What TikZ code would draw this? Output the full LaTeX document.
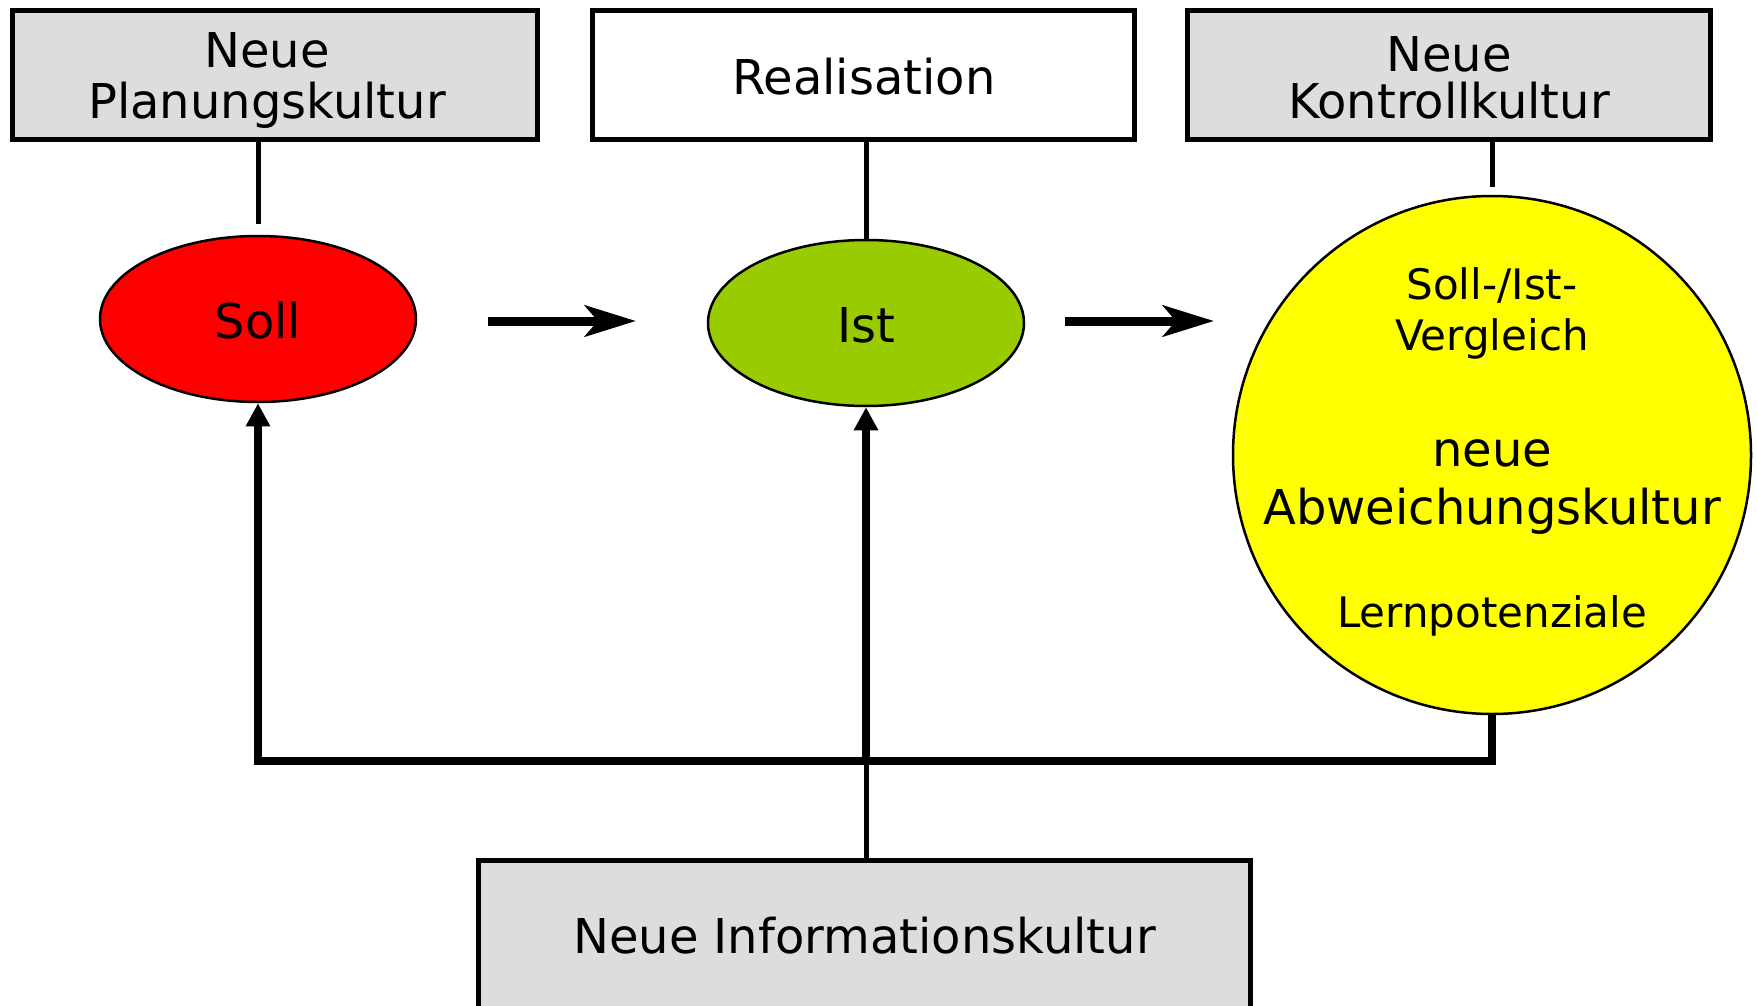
\documentclass[tikz,border=0pt]{standalone}
\usepackage{fontspec}
\setmainfont{DejaVu Sans}
\usetikzlibrary{arrows.meta,shapes.geometric}

\definecolor{boxgrey}{HTML}{DDDDDD}
\definecolor{sollred}{HTML}{FF0000}
\definecolor{istgreen}{HTML}{99CC00}
\definecolor{cmpyellow}{HTML}{FFFF00}

\tikzset{
  frame/.style={draw=black, line width=5pt, rectangle, inner sep=0pt},
  greyframe/.style={frame, fill=boxgrey},
  whiteframe/.style={frame, fill=white},
  oval/.style={draw=black, line width=2.5pt, ellipse, inner sep=0pt,
    minimum width=316pt, minimum height=166pt},
  txt/.style={anchor=base, inner sep=0pt, font=\fontsize{48}{51}\selectfont},
  smalltxt/.style={anchor=base, inner sep=0pt, font=\fontsize{42}{45}\selectfont},
  link/.style={draw=black, line width=5pt},
  flow/.style={draw=black, line width=9pt,
    -{Stealth[length=51pt, width=31pt, inset=13pt]}},
  feedback/.style={draw=black, line width=7.5pt},
  uptip/.style={-{Triangle[length=23pt, width=23pt]}},
}

\begin{document}
\begin{tikzpicture}[x=1pt, y=-1pt]
  \useasboundingbox (0,0) rectangle (1757,1006);
  \clip (0,0) rectangle (1757,1006);

  % top row of culture boxes
  \node[greyframe, minimum width=525.5pt, minimum height=129.5pt] (plan) at (275,75) {};
  \node[txt] (plan1) at (267,68) {Neue};
  \node[txt] (plan2) at (267,119) {Planungskultur};

  \node[whiteframe, minimum width=542.5pt, minimum height=129.5pt] (real) at (863.5,75) {};
  \node[txt] (real1) at (864,95) {Realisation};

  \node[greyframe, minimum width=523.5pt, minimum height=129.5pt] (kontr) at (1449,75) {};
  \node[txt] (kontr1) at (1449,72) {Neue};
  \node[txt] (kontr2) at (1449,119) {Kontrollkultur};

  % Soll, Ist and comparison
  \node[oval, fill=sollred] (soll) at (258,319) {};
  \node[txt] (soll1) at (258,338) {Soll};

  \node[oval, fill=istgreen] (ist) at (866,323) {};
  \node[txt] (ist1) at (866,342) {Ist};

  \node[circle, draw=black, line width=2.5pt, fill=cmpyellow, inner sep=0pt,
        minimum size=518pt] (cmp) at (1492,455) {};
  \node[smalltxt] (cmp1) at (1492,299) {Soll-/Ist-};
  \node[smalltxt] (cmp2) at (1492,350) {Vergleich};
  \node[txt] (cmp3) at (1492,466) {neue};
  \node[txt] (cmp4) at (1492,524) {Abweichungskultur};
  \node[smalltxt] (cmp5) at (1492,627) {Lernpotenziale};

  % bottom box
  \node[greyframe, minimum width=772.5pt, minimum height=151.75pt] (info) at (864.5,936) {};
  \node[txt] (info1) at (864.5,953) {Neue Informationskultur};

  % helper points
  \coordinate (sollTop) at (258,224);
  \coordinate (cmpTop) at (1492,187);
  \coordinate (jn) at (866,761);
  \coordinate (f1a) at (488,321);
  \coordinate (f1b) at (636,321);
  \coordinate (f2a) at (1065,321);
  \coordinate (f2b) at (1214,321);

  % vertical links from the boxes
  \draw[link] (plan.south -| soll.north) -- (sollTop);
  \draw[link] (real.south -| ist.north) -- (ist.north);
  \draw[link] (kontr.south -| cmp.north) -- (cmpTop);

  % process arrows
  \draw[flow] (f1a) -- (f1b);
  \draw[flow] (f2a) -- (f2b);

  % feedback loop from the comparison back to Soll
  \draw[feedback, uptip] (cmp.south) -- (cmp.south |- jn) -- (soll.south |- jn) -- (soll.south);

  % information feeds Ist
  \draw[link] (info.north -| jn) -- (jn);
  \draw[feedback, uptip] (jn) -- (ist.south);
\end{tikzpicture}
\end{document}
